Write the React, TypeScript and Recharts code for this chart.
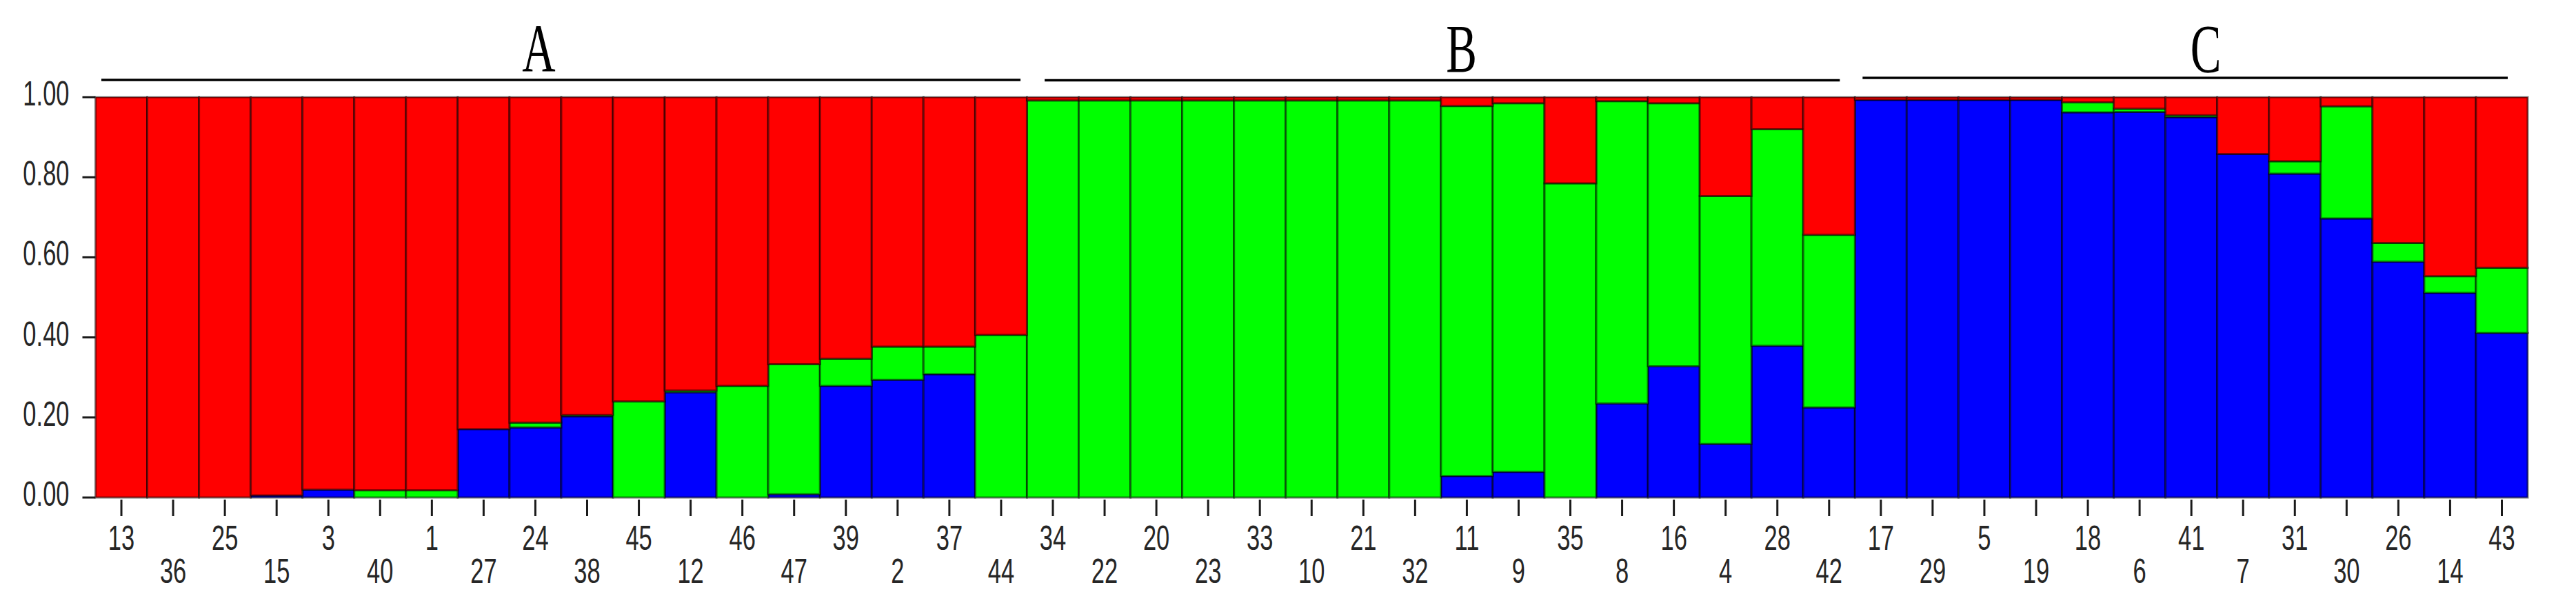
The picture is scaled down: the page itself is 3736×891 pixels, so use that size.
import React from 'react';
import { BarChart, Bar, XAxis, YAxis, Customized } from 'recharts';

const categories = [
  '13', '36', '25', '15', '3', '40', '1', '27', '24', '38', '45', '12', '46', '47', '39', '2', '37', '44',
  '34', '22', '20', '23', '33', '10', '21', '32', '11', '9', '35', '8', '16', '4', '28', '42',
  '17', '29', '5', '19', '18', '6', '41', '7', '31', '30', '26', '14', '43',
];

const blueValues = [
  0, 0, 0, 0.005, 0.02, 0, 0, 0.171, 0.175, 0.203, 0, 0.263, 0, 0.008, 0.279, 0.294, 0.308, 0,
  0, 0, 0, 0, 0, 0, 0, 0, 0.054, 0.064, 0, 0.235, 0.328, 0.134, 0.379, 0.225,
  0.993, 0.993, 0.993, 0.993, 0.962, 0.963, 0.95, 0.858, 0.809, 0.697, 0.589, 0.511, 0.411,
];

const greenValues = [
  0, 0, 0, 0, 0, 0.018, 0.018, 0, 0.012, 0.003, 0.24, 0.004, 0.279, 0.325, 0.068, 0.083, 0.069, 0.406,
  0.992, 0.992, 0.992, 0.992, 0.992, 0.992, 0.992, 0.992, 0.924, 0.921, 0.785, 0.755, 0.657, 0.619, 0.541, 0.431,
  0, 0, 0, 0, 0.025, 0.008, 0.005, 0, 0.031, 0.28, 0.047, 0.042, 0.163,
];

const redValues = [
  1, 1, 1, 0.995, 0.98, 0.982, 0.982, 0.829, 0.813, 0.794, 0.76, 0.733, 0.721, 0.667, 0.653, 0.623, 0.623, 0.594,
  0.008, 0.008, 0.008, 0.008, 0.008, 0.008, 0.008, 0.008, 0.022, 0.015, 0.215, 0.01, 0.015, 0.247, 0.08, 0.344,
  0.007, 0.007, 0.007, 0.007, 0.013, 0.029, 0.045, 0.142, 0.16, 0.023, 0.364, 0.447, 0.426,
];

const groupNames = ['A', 'B', 'C'];
const groupSizes = [18, 16, 13];
const yTicks = [0, 0.2, 0.4, 0.6, 0.8, 1];

const data = categories.map((name, i) => ({
  name,
  blue: blueValues[i],
  green: greenValues[i],
  red: redValues[i],
}));

// layout constants
const W = 3720;
const H = 875;
const MARGIN = { top: 133, right: 62, left: 0, bottom: 0 };
const Y_W = 130.5;
const X_H = 161;
const PLOT_LEFT = MARGIN.left + Y_W;
const PLOT_WIDTH = W - PLOT_LEFT - MARGIN.right;

const NUM_FONT = "'Liberation Sans', Arial, sans-serif";
const SERIF_FONT = "'Liberation Serif', 'Times New Roman', serif";
const TEXT_COLOR = '#262626';
const NUM_SIZE = 50;
const NUM_SX = 0.69;

// per-group hand-drawn bracket insets (left, right), line heights, letter offsets
const lineInsets = [
  [8.5, 9.4],
  [25.6, 22],
  [11, 29],
];
const lineYs = [108, 108.5, 105];
const letterDx = [-32, 28, 30];

const XTick = (props: any) => {
  const { x, y, payload } = props;
  const idx = categories.indexOf(String(payload.value));
  const row = idx % 2;
  const ty = y + (row === 0 ? 76 : 124);
  return (
    <g>
      <line x1={x} x2={x} y1={y + 3} y2={y + 27} stroke="#1a1a1a" strokeWidth={3} />
      <text
        transform={`translate(${x},${ty}) scale(${NUM_SX},1)`}
        textAnchor="middle"
        fontSize={NUM_SIZE}
        fontFamily={NUM_FONT}
        fill={TEXT_COLOR}
      >
        {payload.value}
      </text>
    </g>
  );
};

const YTick = (props: any) => {
  const { x, y, payload } = props;
  return (
    <g>
      <line x1={x - 19} x2={x} y1={y} y2={y} stroke="#1a1a1a" strokeWidth={3} />
      <text
        transform={`translate(${x - 38},${y + 12}) scale(${NUM_SX},1)`}
        textAnchor="end"
        fontSize={NUM_SIZE}
        fontFamily={NUM_FONT}
        fill={TEXT_COLOR}
      >
        {Number(payload.value).toFixed(2)}
      </text>
    </g>
  );
};

const GroupBrackets = () => {
  const band = PLOT_WIDTH / categories.length;
  let start = 0;
  return (
    <g>
      {groupNames.map((g, i) => {
        const x0 = PLOT_LEFT + start * band;
        const x1 = PLOT_LEFT + (start + groupSizes[i]) * band;
        start += groupSizes[i];
        const lx0 = x0 + lineInsets[i][0];
        const lx1 = x1 - lineInsets[i][1];
        const cx = (lx0 + lx1) / 2 + letterDx[i];
        return (
          <g key={g}>
            <line x1={lx0} x2={lx1} y1={lineYs[i]} y2={lineYs[i]} stroke="#000" strokeWidth={3.5} />
            <text
              transform={`translate(${cx},96) scale(0.67,1)`}
              textAnchor="middle"
              fontSize={100}
              fontFamily={SERIF_FONT}
              fill="#000"
            >
              {g}
            </text>
          </g>
        );
      })}
    </g>
  );
};

export default function App() {
  return (
    <div style={{ width: W, height: H, background: '#fff' }}>
      <BarChart
        width={W}
        height={H}
        data={data}
        margin={MARGIN}
        barCategoryGap={0}
        barGap={0}
      >
        <XAxis
          dataKey="name"
          interval={0}
          axisLine={false}
          tickLine={false}
          tickSize={0}
          tickMargin={0}
          height={X_H}
          tick={<XTick />}
        />
        <YAxis
          type="number"
          domain={[0, 1]}
          ticks={yTicks}
          interval={0}
          axisLine={false}
          tickLine={false}
          tickSize={0}
          tickMargin={0}
          width={Y_W}
          tick={<YTick />}
        />
        <Bar dataKey="blue" stackId="s" fill="#0000FF" stroke="#000" strokeOpacity={0.5} strokeWidth={3} isAnimationActive={false} />
        <Bar dataKey="green" stackId="s" fill="#00FF00" stroke="#000" strokeOpacity={0.5} strokeWidth={3} isAnimationActive={false} />
        <Bar dataKey="red" stackId="s" fill="#FF0000" stroke="#000" strokeOpacity={0.5} strokeWidth={3} isAnimationActive={false} />
        <Customized component={GroupBrackets} />
      </BarChart>
    </div>
  );
}
